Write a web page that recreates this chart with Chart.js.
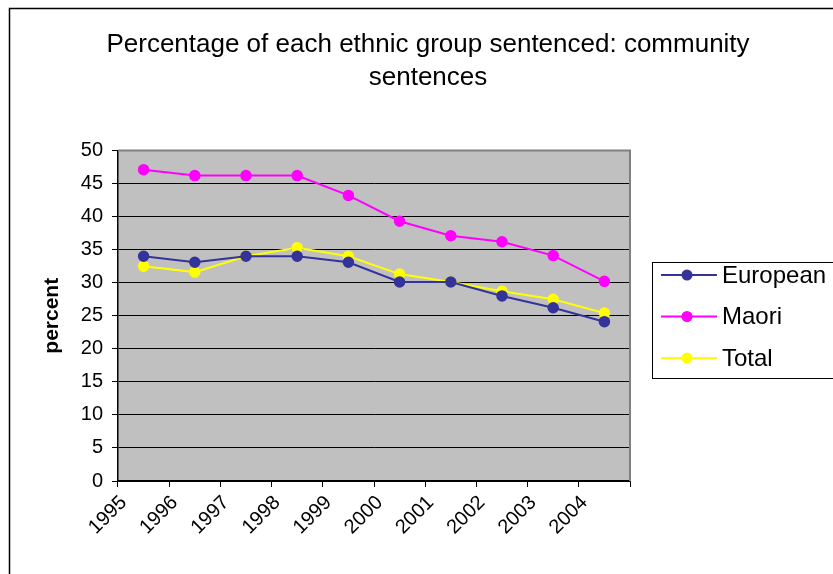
<!DOCTYPE html>
<html>
<head>
<meta charset="utf-8">
<title>Community sentences</title>
<script src="https://cdn.jsdelivr.net/npm/chart.js@4/dist/chart.umd.min.js"></script>
<style>
  html, body { margin: 0; padding: 0; background: #fff; overflow: hidden; }
  #wrap { position: relative; width: 833px; height: 574px; }
</style>
</head>
<body>
<div id="wrap"><canvas id="chart" width="833" height="574"></canvas></div>
<script>
const YEARS = ["1995", "1996", "1997", "1998", "1999", "2000", "2001", "2002", "2003", "2004"];
const EUROPEAN = [34, 33.1, 34, 34, 33.1, 30.1, 30.1, 28, 26.2, 24.1];
const MAORI = [47.1, 46.2, 46.2, 46.2, 43.2, 39.3, 37.1, 36.2, 34.1, 30.2];
const TOTAL = [32.5, 31.6, 34, 35.3, 34, 31.3, 30.1, 28.7, 27.5, 25.4];
const Y_MIN = 0;
const Y_MAX = 50;
const Y_STEP = 5;

const FONT = "'Liberation Sans', Arial, Helvetica, sans-serif";

const series = [
  { label: "European", data: EUROPEAN, color: "#333399" },
  { label: "Maori", data: MAORI, color: "#ff00ff" },
  { label: "Total", data: TOTAL, color: "#ffff00" }
];

// grey plot background, grey top/right border and the outer frame
const plotArea = {
  id: "plotArea",
  beforeDraw(chart) {
    const { ctx, chartArea: a } = chart;
    ctx.save();
    ctx.strokeStyle = "#000";
    ctx.lineWidth = 1.5;
    ctx.strokeRect(9.5, 8.5, 1000, 1000);
    ctx.fillStyle = "#c0c0c0";
    ctx.fillRect(a.left, a.top, a.right - a.left, a.bottom - a.top);
    ctx.restore();
  },
  afterDatasetsDraw(chart) {
    const { ctx, chartArea: a } = chart;
    ctx.save();
    ctx.strokeStyle = "#808080";
    ctx.lineWidth = 2;
    ctx.beginPath();
    ctx.moveTo(a.left, a.top);
    ctx.lineTo(a.right, a.top);
    ctx.lineTo(a.right, a.bottom);
    ctx.stroke();
    ctx.restore();
  }
};

// boxed legend at the right, partly cut off like the original
const boxLegend = {
  id: "boxLegend",
  afterDraw(chart) {
    const { ctx } = chart;
    const x = 652, y = 262, w = 200, h = 116;
    ctx.save();
    ctx.fillStyle = "#fff";
    ctx.fillRect(x, y, w, h);
    ctx.strokeStyle = "#000";
    ctx.lineWidth = 1;
    ctx.strokeRect(x + 0.5, y + 0.5, w, h);
    ctx.font = "24px " + FONT;
    ctx.textBaseline = "middle";
    chart.data.datasets.forEach((ds, i) => {
      const cy = y + 13 + i * 41.5;
      ctx.strokeStyle = ds.borderColor;
      ctx.lineWidth = 2;
      ctx.beginPath();
      ctx.moveTo(661, cy);
      ctx.lineTo(717, cy);
      ctx.stroke();
      ctx.fillStyle = ds.pointBackgroundColor;
      ctx.beginPath();
      ctx.arc(687, cy, 5.5, 0, Math.PI * 2);
      ctx.fill();
      ctx.fillStyle = "#000";
      ctx.fillText(ds.label, 722, cy + 1);
    });
    ctx.restore();
  }
};

new Chart(document.getElementById("chart"), {
  type: "line",
  data: {
    labels: YEARS,
    datasets: series.map((s) => ({
      label: s.label,
      data: s.data,
      borderColor: s.color,
      backgroundColor: s.color,
      pointBackgroundColor: s.color,
      pointBorderColor: s.color,
      pointRadius: 5,
      pointBorderWidth: 1.5,
      borderWidth: 2,
      tension: 0
    }))
  },
  options: {
    responsive: false,
    animation: false,
    layout: { padding: { left: 23, right: 0, top: 0, bottom: 0 } },
    plugins: {
      legend: { display: false },
      tooltip: { enabled: false },
      title: {
        display: true,
        text: ["Percentage of each ethnic group sentenced: community", "sentences"],
        color: "#000",
        font: { family: FONT, size: 26, weight: "normal", lineHeight: 1.24 },
        padding: { top: 29, bottom: 57 }
      }
    },
    scales: {
      x: {
        offset: true,
        grid: { offset: true, drawOnChartArea: false, color: "#000", tickLength: 6 },
        border: { color: "#000", width: 1.5 },
        ticks: {
          color: "#000",
          font: { family: FONT, size: 20 },
          maxRotation: 45,
          minRotation: 45,
          labelOffset: -20,
          padding: 4
        },
        afterFit(scale) { scale.height = 93; }
      },
      y: {
        min: Y_MIN,
        max: Y_MAX,
        ticks: {
          stepSize: Y_STEP,
          color: "#000",
          font: { family: FONT, size: 20 },
          padding: 9
        },
        grid: { color: "#000", lineWidth: 1, tickLength: 6 },
        border: { color: "#000", width: 1.5 },
        title: {
          display: true,
          text: "percent",
          color: "#000",
          font: { family: FONT, size: 21, weight: "bold" },
          padding: { top: 17, bottom: 0 }
        },
        afterFit(scale) { scale.width = 95; }
      },
      legendSpace: {
        position: "right",
        display: true,
        ticks: { display: false },
        grid: { display: false },
        border: { display: false },
        afterFit(scale) { scale.width = 203; }
      }
    }
  },
  plugins: [plotArea, boxLegend]
});
</script>
</body>
</html>
